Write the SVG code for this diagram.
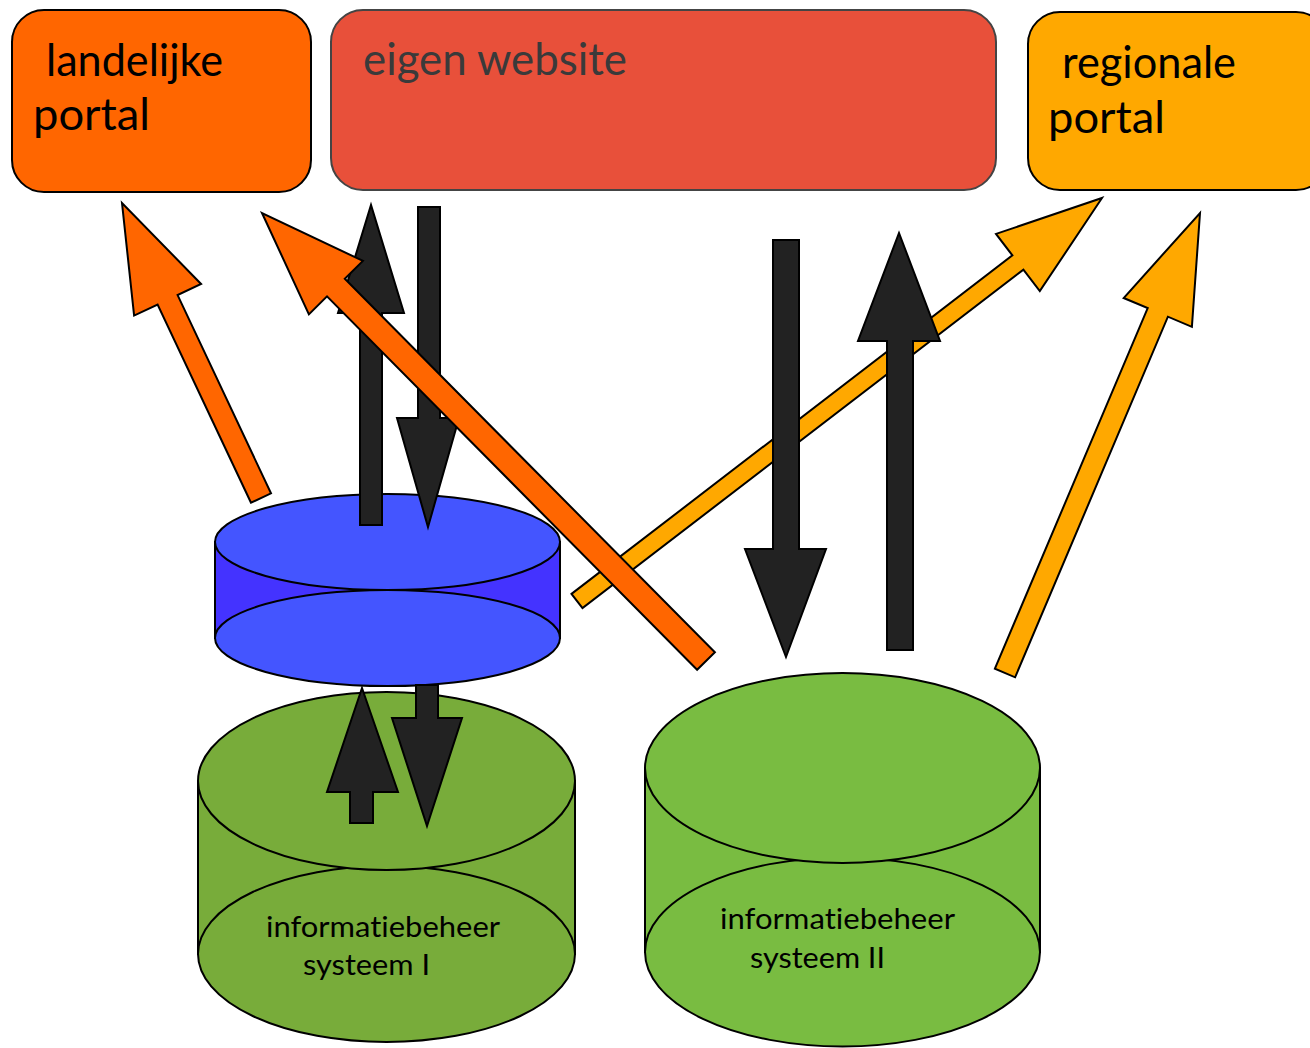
<svg xmlns="http://www.w3.org/2000/svg" width="1310" height="1048" viewBox="0 0 1310 1048">
<style>
.box{stroke:#000;stroke-width:2}
.lbl{font-family:Lato,"Open Sans","Liberation Sans",sans-serif;fill:#000;font-variant-ligatures:none;font-feature-settings:"liga" 0,"clig" 0}
.big{font-size:44px}
.small{font-size:29px}
.cyl{stroke:#000;stroke-width:2}
.blk{fill:#222;stroke:#000;stroke-width:2;stroke-linejoin:miter}
.org{fill:#FF6600;stroke:#000;stroke-width:2}
.yel{fill:#FFA800;stroke:#000;stroke-width:2}
</style>
<rect width="1310" height="1048" fill="#fff"/>
<g id="landelijke-portal">
<rect class="box" x="12" y="10" width="299" height="182" rx="32" fill="#FF6600"/>
<text class="lbl big" x="46" y="76" textLength="177" lengthAdjust="spacingAndGlyphs">landelijke</text>
<text class="lbl big" x="33" y="130" textLength="117" lengthAdjust="spacingAndGlyphs">portal</text>
</g>
<g id="eigen-website">
<rect x="331" y="10" width="665" height="180" rx="32" fill="#E8503A" stroke="#444" stroke-width="2"/>
<text class="lbl big" x="363" y="75" textLength="264" lengthAdjust="spacingAndGlyphs" style="fill:#3a3a3a">eigen website</text>
</g>
<g id="regionale-portal">
<rect class="box" x="1028" y="12" width="300" height="178" rx="32" fill="#FFA800"/>
<text class="lbl big" x="1062" y="78" textLength="174" lengthAdjust="spacingAndGlyphs">regionale</text>
<text class="lbl big" x="1048" y="133" textLength="117" lengthAdjust="spacingAndGlyphs">portal</text>
</g>
<g id="informatiebeheer-systeem-1">
<path class="cyl" d="M198,781 V954 H575 V781 Z" fill="#78AC3A"/>
<ellipse class="cyl" cx="386.5" cy="954" rx="188.5" ry="88" fill="#78AC3A"/>
<ellipse class="cyl" cx="386.5" cy="781" rx="188.5" ry="89" fill="#78AC3A"/>
<text class="lbl small" x="266" y="937" textLength="234" lengthAdjust="spacingAndGlyphs">informatiebeheer</text>
<text class="lbl small" x="303" y="975" textLength="127" lengthAdjust="spacingAndGlyphs">systeem I</text>
</g>
<g id="tussenlaag">
<path class="cyl" d="M215,542 V638 H560 V542 Z" fill="#4433FF"/>
<ellipse class="cyl" cx="387.5" cy="638" rx="172.5" ry="48" fill="#4455FF"/>
<ellipse class="cyl" cx="387.5" cy="542" rx="172.5" ry="48" fill="#4455FF"/>
</g>
<g id="informatiebeheer-systeem-2">
<path class="cyl" d="M645,768 V952 H1040 V768 Z" fill="#79BC41"/>
<ellipse class="cyl" cx="842.5" cy="952" rx="197.5" ry="94.5" fill="#79BC41"/>
<ellipse class="cyl" cx="842.5" cy="768" rx="197.5" ry="95" fill="#79BC41"/>
<text class="lbl small" x="720" y="929" textLength="235" lengthAdjust="spacingAndGlyphs">informatiebeheer</text>
<text class="lbl small" x="750" y="968" textLength="135" lengthAdjust="spacingAndGlyphs">systeem II</text>
</g>
<g id="connectors">
<polygon class="blk" points="350,823 350,792 327,792 362,688 398,792 373,792 373,823"/>
<polygon class="blk" points="416,685 438,685 438,718 462,718 427,826 392,718 416,718"/>
<polygon class="org" points="251.0,502.7 157.6,304.5 134.1,315.6 122,203 201.1,284.0 177.6,295.1 271.0,493.3"/>
<polygon class="yel" points="571.5,593.9 1012.4,255.4 996.0,233.9 1102,198 1039.8,291.1 1023.4,269.6 582.5,608.1"/>
<polygon class="yel" points="994.9,668.7 1147.7,308.1 1123.7,298.0 1200,213 1191.9,326.8 1167.9,316.7 1015.1,677.3"/>
<polygon class="blk" points="360,525 360,313 338,313 371,205 404,313 382,313 382,525"/>
<polygon class="blk" points="418,207 440,207 440,418 459,418 428,527 397,418 418,418"/>
<polygon class="blk" points="773,240 799,240 799,549 826,549 786,657 745,549 773,549"/>
<polygon class="blk" points="887,650 887,341 858,341 899,233 940,341 913,341 913,650"/>
<polygon class="org" points="697.1,669.8 327.0,296.4 308.9,314.4 262,213 362.9,260.9 344.8,278.8 714.9,652.2"/>
</g>
</svg>
